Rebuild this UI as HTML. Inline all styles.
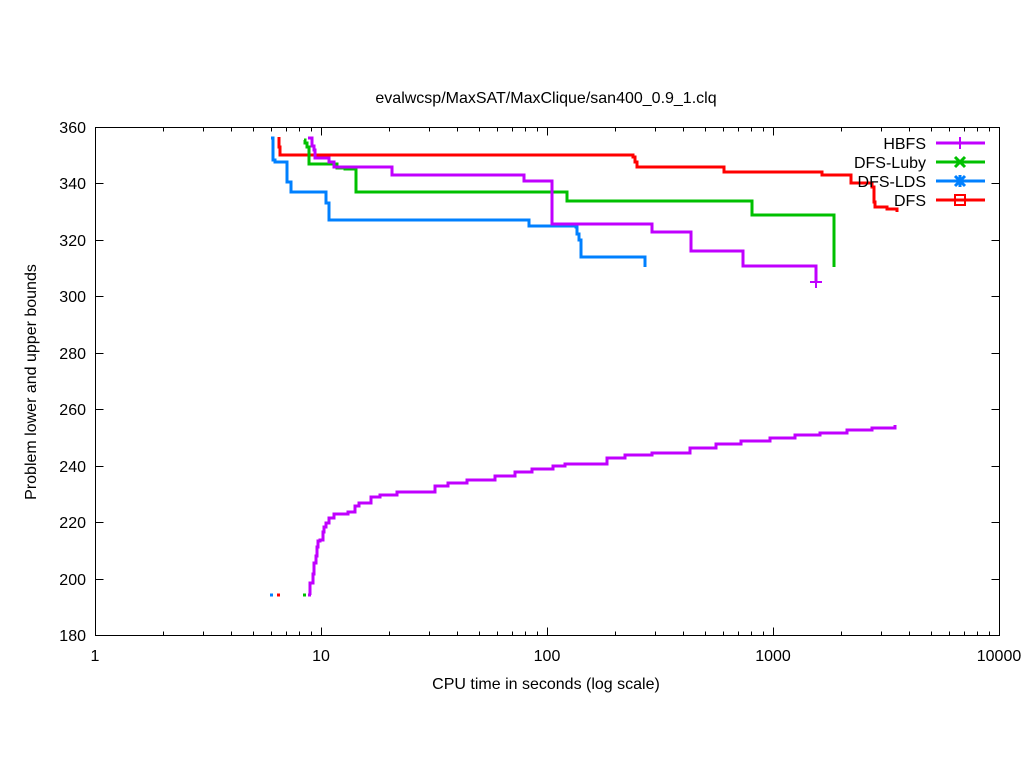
<!DOCTYPE html>
<html><head><meta charset="utf-8"><style>body{margin:0;background:#fff}svg{display:block}text{font-family:"Liberation Sans",sans-serif;font-size:16px;fill:#000}</style></head><body>
<svg width="1024" height="768" viewBox="0 0 1024 768">
<rect width="1024" height="768" fill="#fff"/>
<g stroke="#000" stroke-width="1" fill="none">
<rect x="95.5" y="127.5" width="904" height="508"/>
<path d="M95.5 635.5v-8M321.5 635.5v-8M547.5 635.5v-8M773.5 635.5v-8M95.5 127.5v8M321.5 127.5v8M547.5 127.5v8M773.5 127.5v8
M163.5 635.5v-4M203.5 635.5v-4M231.5 635.5v-4M253.5 635.5v-4M271.5 635.5v-4M286.5 635.5v-4M299.5 635.5v-4M311.5 635.5v-4
M389.5 635.5v-4M429.5 635.5v-4M457.5 635.5v-4M479.5 635.5v-4M497.5 635.5v-4M512.5 635.5v-4M525.5 635.5v-4M537.5 635.5v-4
M615.5 635.5v-4M655.5 635.5v-4M683.5 635.5v-4M705.5 635.5v-4M723.5 635.5v-4M738.5 635.5v-4M751.5 635.5v-4M763.5 635.5v-4
M841.5 635.5v-4M881.5 635.5v-4M909.5 635.5v-4M931.5 635.5v-4M949.5 635.5v-4M964.5 635.5v-4M977.5 635.5v-4M989.5 635.5v-4
M163.5 127.5v4M203.5 127.5v4M231.5 127.5v4M253.5 127.5v4M271.5 127.5v4M286.5 127.5v4M299.5 127.5v4M311.5 127.5v4
M389.5 127.5v4M429.5 127.5v4M457.5 127.5v4M479.5 127.5v4M497.5 127.5v4M512.5 127.5v4M525.5 127.5v4M537.5 127.5v4
M615.5 127.5v4M655.5 127.5v4M683.5 127.5v4M705.5 127.5v4M723.5 127.5v4M738.5 127.5v4M751.5 127.5v4M763.5 127.5v4
M841.5 127.5v4M881.5 127.5v4M909.5 127.5v4M931.5 127.5v4M949.5 127.5v4M964.5 127.5v4M977.5 127.5v4M989.5 127.5v4
M95.5 183.5h8M95.5 240.5h8M95.5 296.5h8M95.5 353.5h8M95.5 409.5h8M95.5 466.5h8M95.5 522.5h8M95.5 579.5h8
M999.5 183.5h-8M999.5 240.5h-8M999.5 296.5h-8M999.5 353.5h-8M999.5 409.5h-8M999.5 466.5h-8M999.5 522.5h-8M999.5 579.5h-8"/>
</g>
<g text-anchor="end">
<text x="86" y="133">360</text><text x="86" y="189">340</text><text x="86" y="246">320</text><text x="86" y="302">300</text><text x="86" y="359">280</text><text x="86" y="415">260</text><text x="86" y="472">240</text><text x="86" y="528">220</text><text x="86" y="585">200</text><text x="86" y="641">180</text>
</g>
<g text-anchor="middle">
<text x="95" y="661">1</text><text x="321" y="661">10</text><text x="547" y="661">100</text><text x="773" y="661">1000</text><text x="999" y="661">10000</text>
<text x="546" y="689">CPU time in seconds (log scale)</text>
<text x="546" y="103">evalwcsp/MaxSAT/MaxClique/san400_0.9_1.clq</text>
<text transform="translate(36,382) rotate(-90)">Problem lower and upper bounds</text>
</g>
<g fill="none" stroke-width="3" stroke-linejoin="miter">
<path stroke="#ff0000" d="M279 137V147H280V155H633V157H635V162H637V167H724V172H822V175H851V183H872V187H874V202H875V207H887V209H897V212"/>
<path stroke="#00c000" d="M304 140H305V143H307V147H309V164H337V168H345V169H356V192H567V201H752V215H834V267"/>
<path stroke="#0080ff" d="M271 138H273V160H275V162H287V182H291V192H326V203H329V220H529V226H576V227H577V234H579V240H581V257H645V267"/>
<path stroke="#c000ff" d="M308 138H312V146H314V150H315V158H329V162H334V167H392V175H524V181H552V224H652V232H691V251H743V266H816V282"/>
<path stroke="#c000ff" d="M310 595V583H313V574H314V563H316V556H317V547H318V541H320V540H323V532H324V527H326V523H329V518H334V514H348V512H355V506H359V503H371V497H380V495H397V492H435V486H448V483H467V480H495V476H515V472H532V469H553V466H565V464H607V458H625V455H652V453H690V448H716V444H741V441H770V438H795V435H820V433H847V430H872V428H895V425"/>
<path stroke="#0080ff" d="M270 595h3"/><path stroke="#ff0000" d="M277 595h3"/><path stroke="#00c000" d="M303 595h3"/><path stroke="#c000ff" d="M308 595h3"/>
<path stroke="#c000ff" stroke-width="2" d="M810 282h12M816 276v12"/>
</g>
<g text-anchor="end">
<text x="926" y="149">HBFS</text><text x="926" y="168">DFS-Luby</text><text x="926" y="187">DFS-LDS</text><text x="926" y="206">DFS</text>
</g>
<g fill="none" stroke-width="3">
<path stroke="#c000ff" d="M936 143h49"/><path stroke="#c000ff" stroke-width="2" d="M960 137v12"/>
<path stroke="#00c000" d="M936 162h49M955 157l10 10M965 157l-10 10"/>
<path stroke="#0080ff" d="M936 181h49M955 176l10 10M965 176l-10 10M960 175v12"/>
<path stroke="#ff0000" d="M936 200h49"/><rect x="955" y="195" width="10" height="10" stroke="#ff0000" stroke-width="2"/>
</g>
</svg>
</body></html>
